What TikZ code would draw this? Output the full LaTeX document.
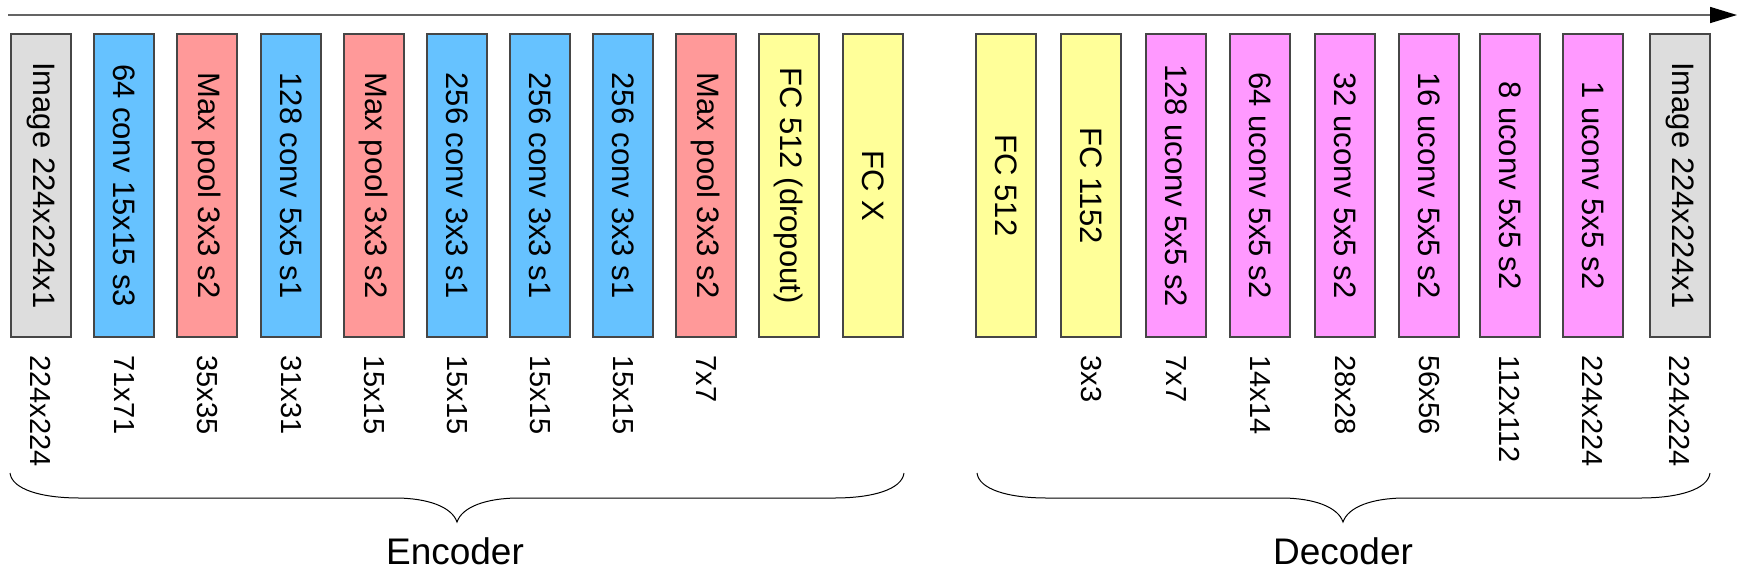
\documentclass[tikz,border=0pt]{standalone}
\usepackage{fontspec}
\setmainfont{Liberation Sans}
\usetikzlibrary{arrows.meta}
\definecolor{cgrey}{RGB}{221,221,221}
\definecolor{cblue}{RGB}{102,194,255}
\definecolor{cred}{RGB}{255,153,153}
\definecolor{cyel}{RGB}{255,255,153}
\definecolor{cmag}{RGB}{255,153,255}
\definecolor{cedge}{RGB}{70,70,70}
\definecolor{carrow}{RGB}{100,100,100}
\tikzset{
 layer/.style={draw=cedge, line width=0.7pt, rotate=-90, minimum width=151.5pt, minimum height=30pt, inner sep=0pt, outer sep=0pt, font=\fontsize{15.5}{18}\selectfont},
 dimlbl/.style={rotate=-90, anchor=west, inner sep=0pt, font=\fontsize{14.5}{17}\selectfont},
 brace/.style={draw=black, line width=0.5pt},
 grp/.style={font=\fontsize{18.5}{22}\selectfont, inner sep=0pt},
 flow/.style={draw=carrow, line width=0.8pt, -{Triangle[length=13.5pt,width=8pt,color=black]}}
}
\begin{document}
\begin{tikzpicture}[x=0.5pt,y=-0.5pt]
\path[use as bounding box, fill=white] (0,0) rectangle (1740,569);
% flow arrow
\coordinate (as) at (8,15);
\coordinate (ae) at (1737,15);
\draw[flow] (as) -- (ae);
% encoder layers
\node[layer, fill=cgrey] (e1) at (41,185.5) {Image 224x224x1};
\node[layer, fill=cblue] (e2) at (124,185.5) {64 conv 15x15 s3};
\node[layer, fill=cred]  (e3) at (207,185.5) {Max pool 3x3 s2};
\node[layer, fill=cblue] (e4) at (291,185.5) {128 conv 5x5 s1};
\node[layer, fill=cred]  (e5) at (374,185.5) {Max pool 3x3 s2};
\node[layer, fill=cblue] (e6) at (457,185.5) {256 conv 3x3 s1};
\node[layer, fill=cblue] (e7) at (540,185.5) {256 conv 3x3 s1};
\node[layer, fill=cblue] (e8) at (623,185.5) {256 conv 3x3 s1};
\node[layer, fill=cred]  (e9) at (706,185.5) {Max pool 3x3 s2};
\node[layer, fill=cyel]  (e10) at (789,185.5) {FC 512 (dropout)};
\node[layer, fill=cyel]  (e11) at (873,185.5) {FC X};
% decoder layers
\node[layer, fill=cyel]  (d1) at (1006,185.5) {FC 512};
\node[layer, fill=cyel]  (d2) at (1091,185.5) {FC 1152};
\node[layer, fill=cmag]  (d3) at (1176,185.5) {128 uconv 5x5 s2};
\node[layer, fill=cmag]  (d4) at (1260,185.5) {64 uconv 5x5 s2};
\node[layer, fill=cmag]  (d5) at (1345,185.5) {32 uconv 5x5 s2};
\node[layer, fill=cmag]  (d6) at (1429,185.5) {16 uconv 5x5 s2};
\node[layer, fill=cmag]  (d7) at (1510,185.5) {8 uconv 5x5 s2};
\node[layer, fill=cmag]  (d8) at (1593,185.5) {1 uconv 5x5 s2};
\node[layer, fill=cgrey] (d9) at (1680,185.5) {Image 224x224x1};
% encoder sizes
\node[dimlbl] (le1) at (41,355) {224x224};
\node[dimlbl] (le2) at (124,355) {71x71};
\node[dimlbl] (le3) at (207,355) {35x35};
\node[dimlbl] (le4) at (291,355) {31x31};
\node[dimlbl] (le5) at (374,355) {15x15};
\node[dimlbl] (le6) at (457,355) {15x15};
\node[dimlbl] (le7) at (540,355) {15x15};
\node[dimlbl] (le8) at (623,355) {15x15};
\node[dimlbl] (le9) at (706,355) {7x7};
% decoder sizes
\node[dimlbl] (ld2) at (1091,355) {3x3};
\node[dimlbl] (ld3) at (1176,355) {7x7};
\node[dimlbl] (ld4) at (1260,355) {14x14};
\node[dimlbl] (ld5) at (1345,355) {28x28};
\node[dimlbl] (ld6) at (1429,355) {56x56};
\node[dimlbl] (ld7) at (1510,355) {112x112};
\node[dimlbl] (ld8) at (1593,355) {224x224};
\node[dimlbl] (ld9) at (1680,355) {224x224};
% braces
\draw[brace] (10,473) .. controls (12,489) and (40,498) .. (80,498) -- (395,498)
  .. controls (428,498) and (452,507) .. (457,522)
  .. controls (462,507) and (486,498) .. (519,498) -- (834,498)
  .. controls (874,498) and (902,489) .. (904,473);
\draw[brace] (977,473) .. controls (979,489) and (1007,498) .. (1047,498) -- (1281,498)
  .. controls (1314,498) and (1338,507) .. (1343,522)
  .. controls (1348,507) and (1372,498) .. (1405,498) -- (1640,498)
  .. controls (1680,498) and (1708,489) .. (1710,473);
\node[grp] (enc) at (455,551) {Encoder};
\node[grp] (dec) at (1343,551) {Decoder};
\end{tikzpicture}
\end{document}
